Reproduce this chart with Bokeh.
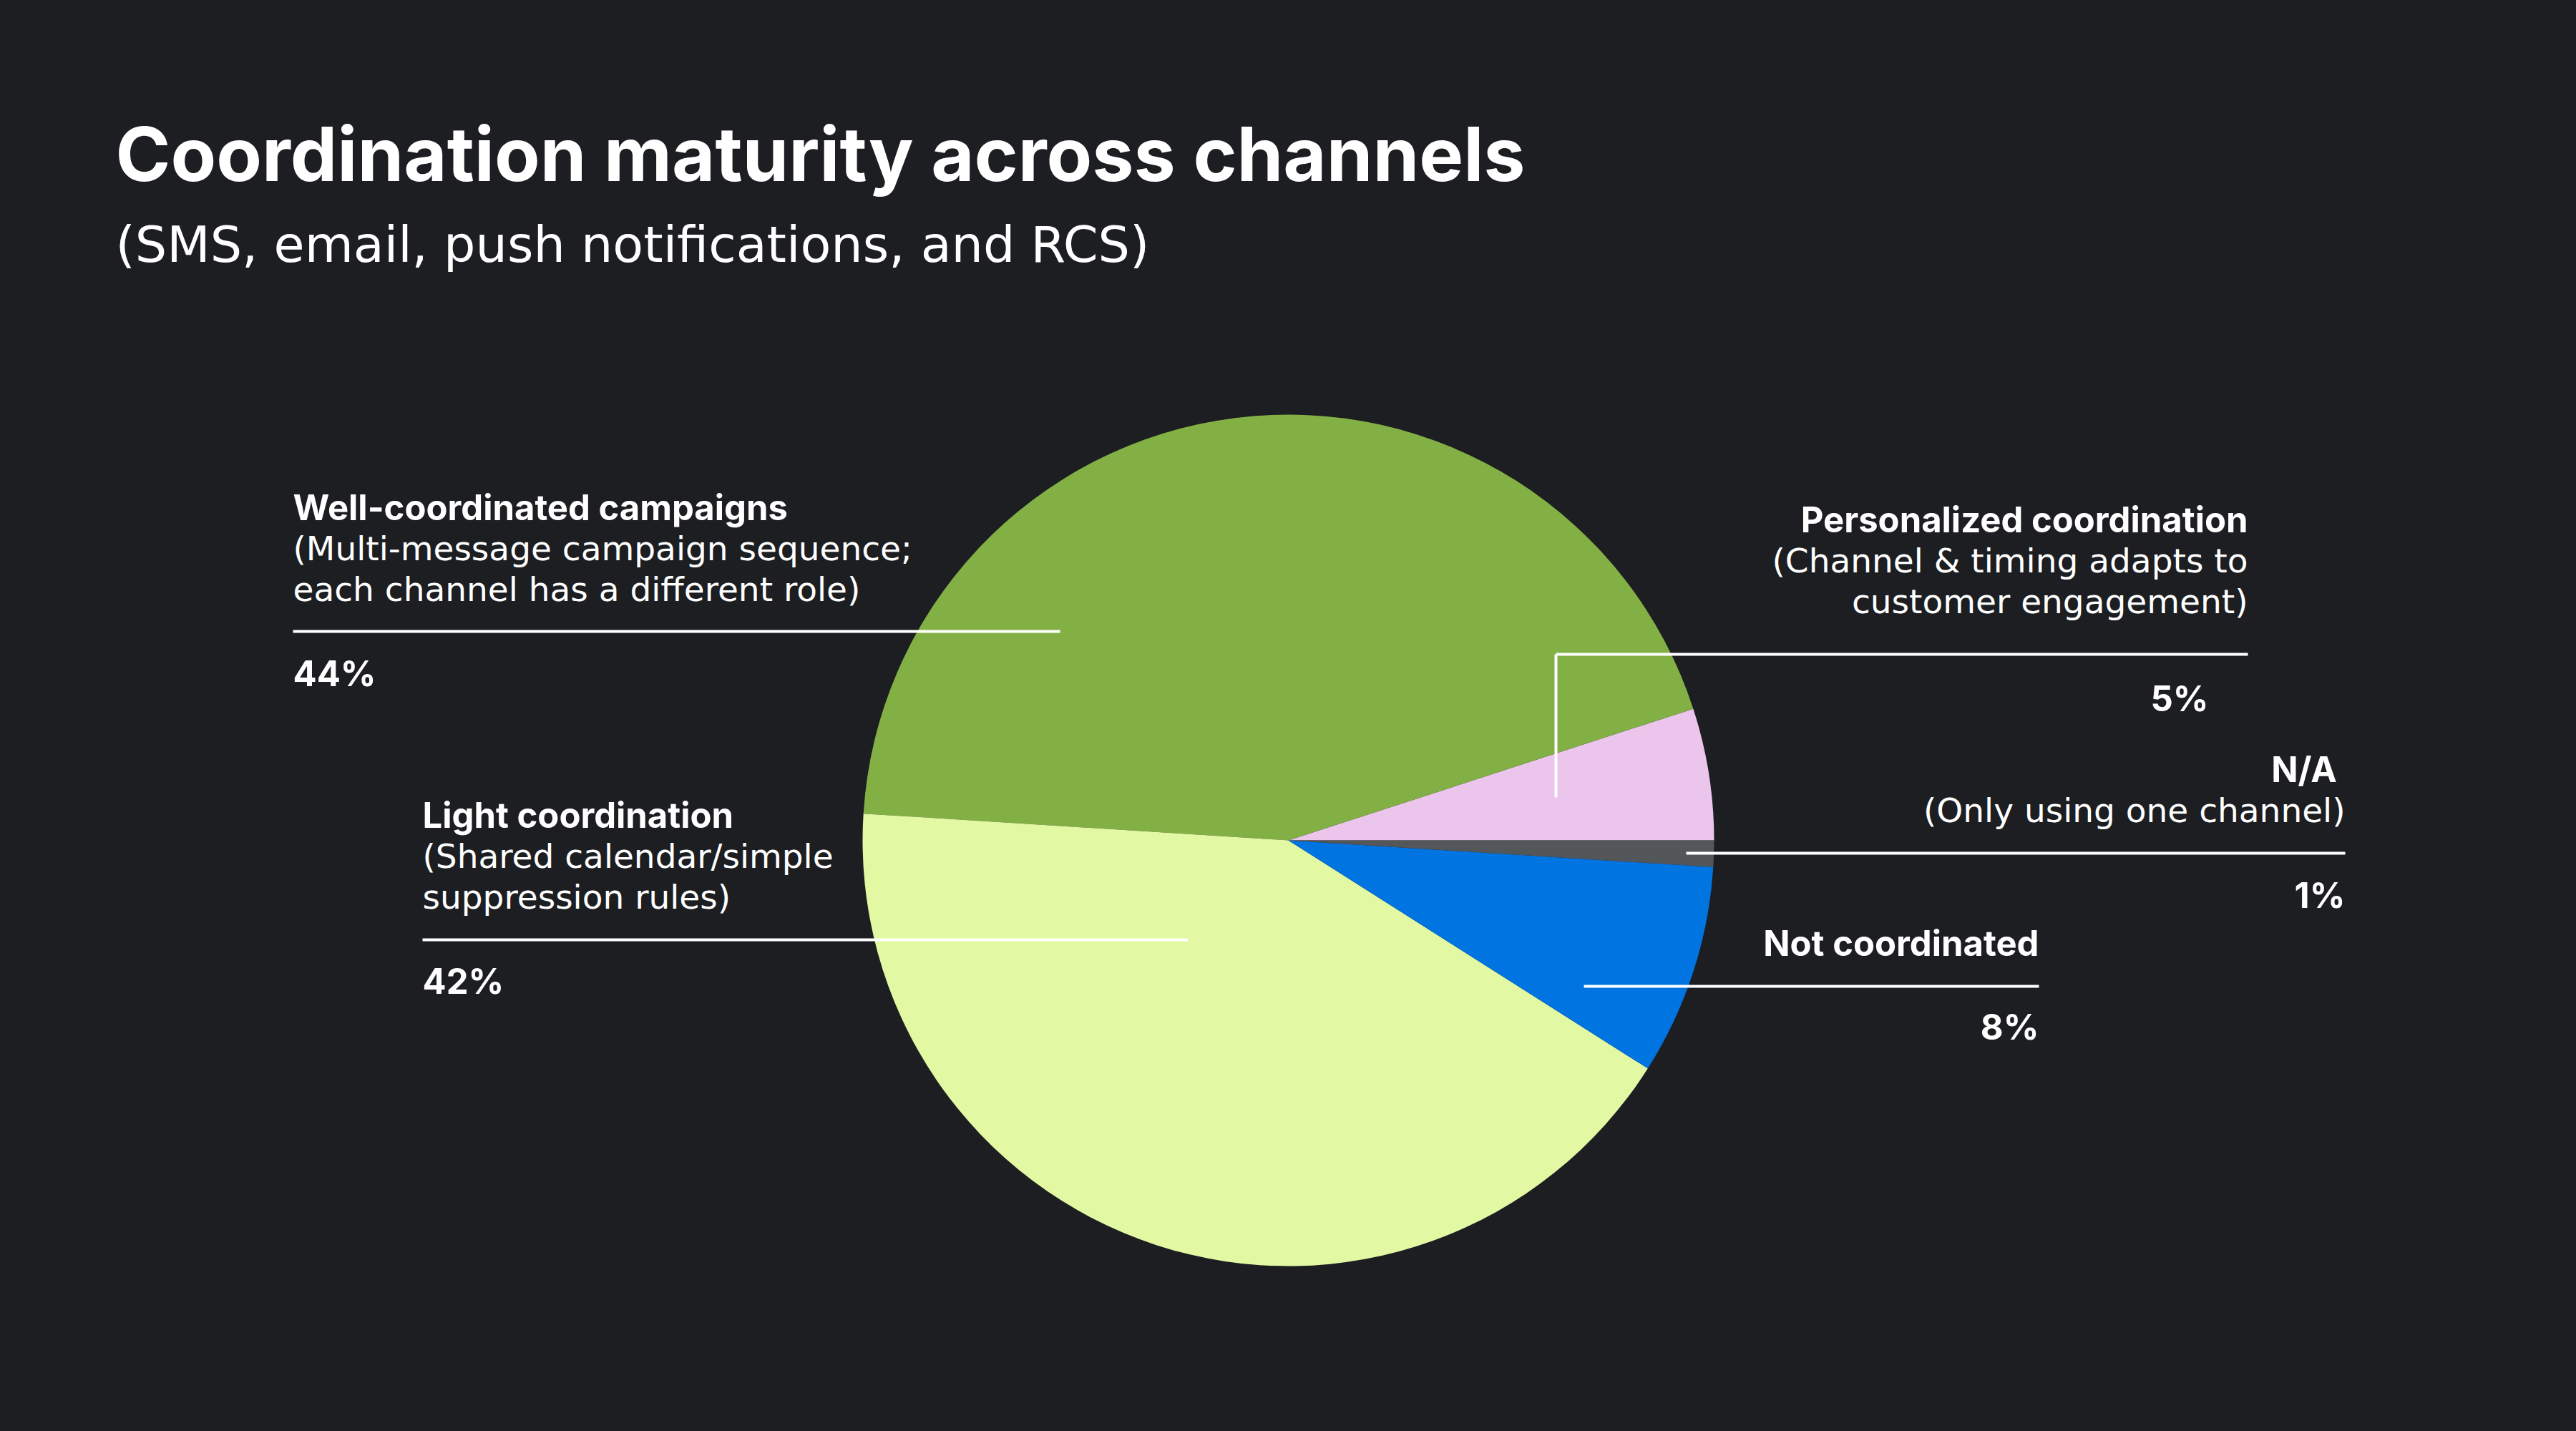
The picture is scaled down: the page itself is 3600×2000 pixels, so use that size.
import math
from bokeh.plotting import figure
from bokeh.models import Range1d
from bokeh.core.properties import value
from bokeh.embed import file_html
from bokeh.resources import INLINE

# ---- data ----
categories = ["Personalized coordination", "Well-coordinated campaigns", "Light coordination",
              "Not coordinated", "N/A"]
descriptions = [["(Channel & timing adapts to", "customer engagement)"],
                ["(Multi-message campaign sequence;", "each channel has a different role)"],
                ["(Shared calendar/simple", "suppression rules)"],
                [],
                ["(Only using one channel)"]]
shares = [5, 44, 42, 8, 1]
pct_labels = ["5%", "44%", "42%", "8%", "1%"]
colors = ["#ebc5ec", "#83b045", "#e2f8a3", "#0074e0", "#53575a"]

title = "Coordination maturity across channels"
subtitle = "(SMS, email, push notifications, and RCS)"

BG = "#1c1e22"
BOLD_FONT = "Inter"
REG_FONT = "DejaVu Sans"
W, H = 3584, 1984

p = figure(width=W, height=H, output_backend="svg", toolbar_location=None,
           x_range=Range1d(0, W), y_range=Range1d(2000 - H, 2000),
           min_border=0, background_fill_color=BG, border_fill_color=BG)
p.axis.visible = False
p.grid.visible = False
p.outline_line_color = None

def Y(sy):
    return 2000 - sy

# ---- pie ----
cx, cy, r = 1800, Y(1174), 595
total = sum(shares)
starts, ends = [], []
acc = 0.0
for s in shares:
    starts.append(2 * math.pi * acc / total)
    acc += s
    ends.append(2 * math.pi * acc / total)
p.wedge(x=[cx] * len(shares), y=[cy] * len(shares), radius=r,
        start_angle=starts, end_angle=ends, direction="anticlock",
        fill_color=colors, line_color=None)

# ---- titles ----
p.text(x=[161], y=[Y(214)], text=[title], text_font=value(BOLD_FONT), text_font_style="bold",
       text_font_size="104px", text_color="white", text_baseline="middle", text_align="left")
p.text(x=[161], y=[Y(341)], text=[subtitle], text_font=value(REG_FONT),
       text_font_size="70px", text_color="white", text_baseline="middle", text_align="left")

# ---- labels ----
BFS = "49px"
RFS = "47px"
LH = 57
# layout: (x anchor, align, first line y, line y, line x0, line x1, pct y, pct x)
layout = {
    0: (3141, "right", 726, 914, 2174, 3141, 976, 3086),
    1: (409, "left", 709, 882, 409, 1481, 941, 409),
    2: (590, "left", 1139, 1313, 590, 1660, 1371, 590),
    3: (2849, "right", 1318, 1378, 2213, 2849, 1435, 2849),
    4: (3277, "right", 1075, 1192, 2356, 3277, 1251, 3277),
}
for i, cat in enumerate(categories):
    ax, al, ty, ly, lx0, lx1, py, px = layout[i]
    head = cat + " " if cat == "N/A" else cat
    p.text(x=[ax], y=[Y(ty)], text=[head], text_font=value(BOLD_FONT), text_font_style="bold",
           text_font_size=BFS, text_color="white", text_baseline="middle", text_align=al)
    for j, d in enumerate(descriptions[i]):
        p.text(x=[ax], y=[Y(ty + LH * (j + 1))], text=[d], text_font=value(REG_FONT),
               text_font_size=RFS, text_color="white", text_baseline="middle", text_align=al)
    p.line(x=[lx0, lx1], y=[Y(ly), Y(ly)], line_color="white", line_width=4)
    p.text(x=[px], y=[Y(py)], text=[pct_labels[i]], text_font=value(BOLD_FONT),
           text_font_style="bold", text_font_size=BFS, text_color="white",
           text_baseline="middle", text_align=al)

# vertical leader into the personalized slice
p.line(x=[2174, 2174], y=[Y(914), Y(1114)], line_color="white", line_width=4)

html = file_html(p, INLINE)
html = html.replace("</head>", "<style>html,body{background:%s;}</style></head>" % BG, 1)
open("out.html", "w").write(html)
